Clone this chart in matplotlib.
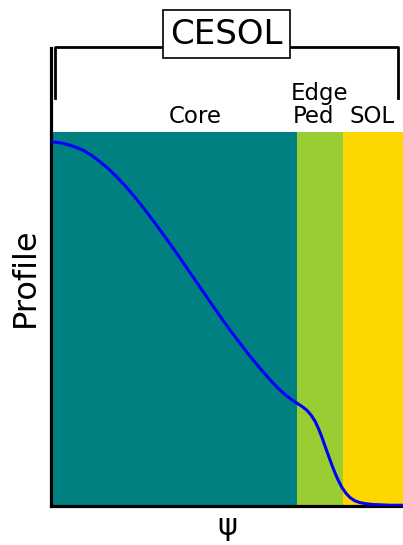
# Profile across core, edge pedestal and SOL regions
import matplotlib
matplotlib.use("Agg")
from matplotlib import pyplot as plt

# region boundaries along psi (normalised)
regions = [0.0, 0.70, 0.83, 1.0]
region_colors = ["#008080", "#9ACD32", "#FFD700"]

# profile values read along psi
psi = [0.002, 0.030, 0.054, 0.075, 0.092, 0.115, 0.139, 0.163, 0.187, 0.210,
       0.234, 0.258, 0.281, 0.310, 0.333, 0.366, 0.395, 0.423, 0.452, 0.480,
       0.509, 0.537, 0.566, 0.594, 0.622, 0.646, 0.670, 0.686, 0.702, 0.715,
       0.727, 0.739, 0.750, 0.760, 0.770, 0.779, 0.787, 0.797, 0.807, 0.817,
       0.827, 0.838, 0.849, 0.863, 0.878, 0.896, 0.915, 0.940, 0.963, 1.0]
profile = [0.974, 0.971, 0.965, 0.958, 0.951, 0.938, 0.921, 0.902, 0.880, 0.857,
           0.831, 0.803, 0.775, 0.738, 0.708, 0.664, 0.624, 0.586, 0.546, 0.508,
           0.470, 0.435, 0.400, 0.368, 0.338, 0.314, 0.294, 0.283, 0.273, 0.265,
           0.256, 0.243, 0.227, 0.207, 0.183, 0.159, 0.138, 0.112, 0.088, 0.067,
           0.049, 0.034, 0.023, 0.014, 0.009, 0.006, 0.004, 0.003, 0.002, 0.002]

plt.figure(figsize=(4.03, 5.45), dpi=100)
ax = plt.axes([51/403, 39/545, 352/403, 458/545])

# coloured bands
for i in range(3):
    ax.fill_between([regions[i], regions[i+1]], 0, 1.0, color=region_colors[i], lw=0)

ax.plot(psi, profile, color="blue", lw=2.2, zorder=3, solid_joinstyle="round")

ax.set_xlim(0, 1)
ax.set_ylim(0, 1.225)
ax.set_xticks([])
ax.set_yticks([])
ax.spines["top"].set_visible(False)
ax.spines["right"].set_visible(False)
ax.spines["left"].set_linewidth(2.3)
ax.spines["bottom"].set_linewidth(2.3)

ax.set_xlabel("ψ", fontsize=22, labelpad=4)
ax.set_ylabel("Profile", fontsize=23, labelpad=7)

# region names
ax.text(0.409, 1.024, "Core", ha="center", va="baseline", fontsize=16.5)
ax.text(0.762, 1.086, "Edge", ha="center", va="baseline", fontsize=16.5)
ax.text(0.747, 1.024, "Ped", ha="center", va="baseline", fontsize=16.5)
ax.text(0.912, 1.024, "SOL", ha="center", va="baseline", fontsize=16.5)

# bracket spanning the whole domain
ax.plot([0.011, 0.011, 0.986, 0.986], [1.091, 1.227, 1.227, 1.091],
        color="black", lw=2.0, clip_on=False, zorder=4)
ax.text(0.499, 1.262, "CESOL", ha="center", va="center", fontsize=24.5, zorder=5,
        bbox=dict(boxstyle="square,pad=0.22", fc="white", ec="black", lw=1.2),
        clip_on=False)

plt.savefig("out.png", dpi=100)
